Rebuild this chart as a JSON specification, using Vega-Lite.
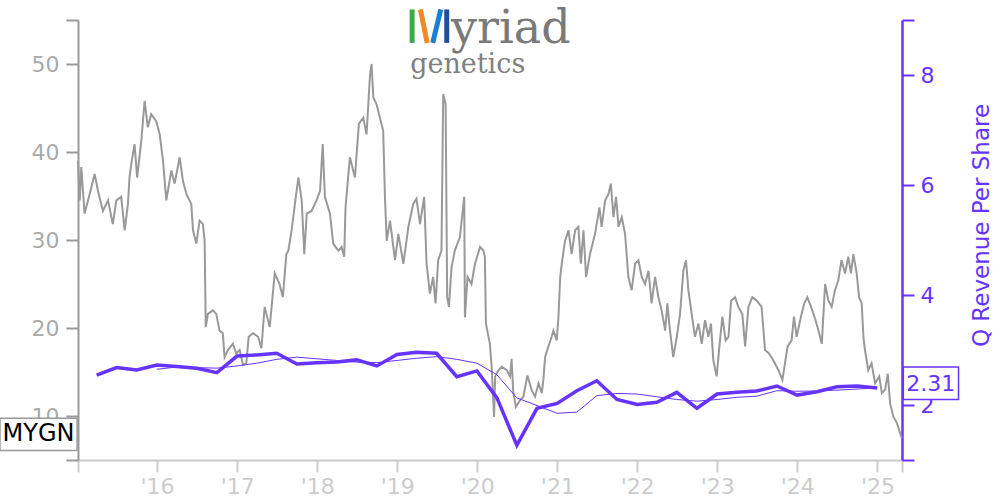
{
  "$schema": "https://vega.github.io/schema/vega-lite/v6.json",
  "width": 824,
  "height": 440,
  "autosize": {"type": "none"},
  "padding": {"left": 78, "top": 20, "right": 98, "bottom": 40},
  "background": "white",
  "config": {"view": {"stroke": null}, "font": "DejaVu Sans", "axis": {"grid": false}},
  "datasets": {
    "tag": [{"ticker": "MYGN"}],
    "price": [
      {"d":"2015-01-05","p":39.0},{"d":"2015-01-13","p":34.5},{"d":"2015-01-20","p":38.3},{"d":"2015-02-04","p":33.0},{"d":"2015-02-27","p":35.2},{"d":"2015-03-22","p":37.5},{"d":"2015-04-06","p":35.6},{"d":"2015-04-29","p":33.3},{"d":"2015-05-22","p":34.5},{"d":"2015-06-13","p":31.8},{"d":"2015-06-29","p":34.5},{"d":"2015-07-21","p":34.9},{"d":"2015-08-06","p":31.1},{"d":"2015-08-21","p":34.1},{"d":"2015-08-28","p":37.1},{"d":"2015-09-05","p":38.6},{"d":"2015-09-20","p":40.9},{"d":"2015-10-02","p":37.1},{"d":"2015-10-21","p":41.3},{"d":"2015-11-05","p":45.8},{"d":"2015-11-20","p":42.8},{"d":"2015-12-05","p":44.3},{"d":"2015-12-28","p":43.5},
      {"d":"2016-01-13","p":42.0},{"d":"2016-01-28","p":39.0},{"d":"2016-02-12","p":34.5},{"d":"2016-03-06","p":37.9},{"d":"2016-03-21","p":36.4},{"d":"2016-04-13","p":39.4},{"d":"2016-04-28","p":36.7},{"d":"2016-05-14","p":35.2},{"d":"2016-06-05","p":34.1},{"d":"2016-06-13","p":31.1},{"d":"2016-06-28","p":29.6},{"d":"2016-07-13","p":32.2},{"d":"2016-07-28","p":31.8},{"d":"2016-08-05","p":29.9},{"d":"2016-08-10","p":20.1},{"d":"2016-08-20","p":21.6},{"d":"2016-09-12","p":22.0},{"d":"2016-09-27","p":21.6},{"d":"2016-10-12","p":19.7},{"d":"2016-10-27","p":19.4},{"d":"2016-11-04","p":16.7},{"d":"2016-11-19","p":17.5},{"d":"2016-12-12","p":18.2},{"d":"2016-12-27","p":17.1},
      {"d":"2017-01-12","p":17.5},{"d":"2017-01-27","p":15.8},{"d":"2017-02-11","p":16.0},{"d":"2017-02-22","p":19.0},{"d":"2017-03-14","p":19.4},{"d":"2017-04-06","p":19.0},{"d":"2017-04-21","p":17.7},{"d":"2017-05-06","p":22.4},{"d":"2017-05-29","p":20.1},{"d":"2017-06-21","p":26.2},{"d":"2017-07-13","p":25.0},{"d":"2017-07-28","p":23.5},{"d":"2017-08-13","p":28.4},{"d":"2017-08-22","p":28.8},{"d":"2017-09-06","p":31.1},{"d":"2017-09-21","p":34.1},{"d":"2017-10-07","p":37.1},{"d":"2017-10-22","p":34.5},{"d":"2017-11-03","p":28.4},{"d":"2017-11-14","p":33.0},{"d":"2017-12-06","p":33.3},{"d":"2017-12-29","p":34.5},
      {"d":"2018-01-14","p":35.6},{"d":"2018-01-26","p":40.9},{"d":"2018-02-05","p":34.9},{"d":"2018-02-28","p":33.0},{"d":"2018-03-15","p":29.6},{"d":"2018-04-07","p":28.8},{"d":"2018-04-22","p":29.2},{"d":"2018-05-04","p":28.1},{"d":"2018-05-10","p":33.7},{"d":"2018-05-30","p":39.4},{"d":"2018-06-22","p":37.1},{"d":"2018-07-10","p":43.2},{"d":"2018-07-30","p":43.9},{"d":"2018-08-14","p":42.0},{"d":"2018-08-30","p":48.8},{"d":"2018-09-06","p":50.0},{"d":"2018-09-14","p":46.2},{"d":"2018-09-29","p":45.4},{"d":"2018-10-14","p":43.9},{"d":"2018-10-29","p":42.4},{"d":"2018-11-06","p":34.9},{"d":"2018-11-14","p":29.9},{"d":"2018-11-29","p":32.2},{"d":"2018-12-22","p":27.7},
      {"d":"2019-01-06","p":30.7},{"d":"2019-01-29","p":27.3},{"d":"2019-02-21","p":31.5},{"d":"2019-03-15","p":34.1},{"d":"2019-03-30","p":34.7},{"d":"2019-04-15","p":31.8},{"d":"2019-05-04","p":34.9},{"d":"2019-05-15","p":27.3},{"d":"2019-05-30","p":23.9},{"d":"2019-06-14","p":25.8},{"d":"2019-06-25","p":22.8},{"d":"2019-07-07","p":27.7},{"d":"2019-07-22","p":28.8},{"d":"2019-07-30","p":46.6},{"d":"2019-08-10","p":45.4},{"d":"2019-08-17","p":23.5},{"d":"2019-08-25","p":22.4},{"d":"2019-09-06","p":26.9},{"d":"2019-09-21","p":28.8},{"d":"2019-10-14","p":30.3},{"d":"2019-11-03","p":34.9},{"d":"2019-11-06","p":21.2},{"d":"2019-11-18","p":25.8},{"d":"2019-12-06","p":25.0},{"d":"2019-12-22","p":27.3},
      {"d":"2020-01-14","p":29.2},{"d":"2020-01-29","p":28.8},{"d":"2020-02-05","p":28.1},{"d":"2020-02-10","p":20.5},{"d":"2020-02-28","p":18.2},{"d":"2020-03-07","p":15.6},{"d":"2020-03-18","p":9.9},{"d":"2020-03-23","p":14.5},{"d":"2020-04-07","p":15.2},{"d":"2020-04-22","p":15.6},{"d":"2020-05-15","p":15.2},{"d":"2020-05-30","p":14.5},{"d":"2020-06-06","p":16.5},{"d":"2020-06-14","p":12.6},{"d":"2020-06-26","p":11.05},{"d":"2020-07-15","p":11.8},{"d":"2020-07-30","p":12.2},{"d":"2020-08-17","p":14.6},{"d":"2020-09-06","p":12.9},{"d":"2020-09-21","p":12.2},{"d":"2020-10-07","p":13.7},{"d":"2020-10-22","p":12.6},{"d":"2020-10-29","p":14.1},{"d":"2020-11-06","p":16.7},{"d":"2020-11-21","p":17.9},{"d":"2020-12-06","p":19.0},{"d":"2020-12-14","p":19.7},{"d":"2020-12-29","p":18.6},
      {"d":"2021-01-06","p":21.3},{"d":"2021-01-14","p":25.8},{"d":"2021-01-21","p":27.3},{"d":"2021-02-05","p":29.9},{"d":"2021-02-21","p":31.1},{"d":"2021-03-07","p":28.4},{"d":"2021-03-23","p":31.1},{"d":"2021-04-07","p":31.5},{"d":"2021-04-18","p":27.3},{"d":"2021-04-30","p":31.1},{"d":"2021-05-12","p":25.8},{"d":"2021-05-30","p":28.4},{"d":"2021-06-22","p":30.7},{"d":"2021-07-12","p":33.7},{"d":"2021-07-22","p":31.5},{"d":"2021-08-07","p":34.5},{"d":"2021-08-22","p":35.2},{"d":"2021-09-02","p":36.4},{"d":"2021-09-14","p":32.6},{"d":"2021-09-26","p":34.9},{"d":"2021-10-07","p":31.5},{"d":"2021-10-22","p":32.6},{"d":"2021-11-06","p":30.7},{"d":"2021-11-21","p":25.8},{"d":"2021-12-06","p":24.3},{"d":"2021-12-22","p":27.3},
      {"d":"2022-01-06","p":27.7},{"d":"2022-01-21","p":25.8},{"d":"2022-02-05","p":25.0},{"d":"2022-02-21","p":26.5},{"d":"2022-03-07","p":22.8},{"d":"2022-03-23","p":25.8},{"d":"2022-04-07","p":23.5},{"d":"2022-04-22","p":22.0},{"d":"2022-05-08","p":19.7},{"d":"2022-05-18","p":22.8},{"d":"2022-05-30","p":19.7},{"d":"2022-06-14","p":16.7},{"d":"2022-06-30","p":19.0},{"d":"2022-07-15","p":21.6},{"d":"2022-07-30","p":26.5},{"d":"2022-08-11","p":27.7},{"d":"2022-08-22","p":24.3},{"d":"2022-09-06","p":21.6},{"d":"2022-09-21","p":19.0},{"d":"2022-10-07","p":20.5},{"d":"2022-10-22","p":18.2},{"d":"2022-11-06","p":20.9},{"d":"2022-11-21","p":19.0},{"d":"2022-12-03","p":20.5},{"d":"2022-12-14","p":16.3},{"d":"2022-12-29","p":14.5},
      {"d":"2023-01-09","p":17.5},{"d":"2023-01-24","p":21.3},{"d":"2023-02-08","p":18.6},{"d":"2023-02-21","p":19.0},{"d":"2023-03-05","p":23.1},{"d":"2023-03-23","p":23.5},{"d":"2023-04-07","p":22.4},{"d":"2023-04-25","p":21.6},{"d":"2023-05-08","p":17.9},{"d":"2023-05-23","p":22.4},{"d":"2023-06-10","p":23.5},{"d":"2023-06-30","p":23.1},{"d":"2023-07-22","p":22.4},{"d":"2023-08-07","p":17.5},{"d":"2023-08-25","p":17.1},{"d":"2023-09-14","p":16.3},{"d":"2023-10-07","p":15.2},{"d":"2023-10-25","p":14.1},{"d":"2023-11-06","p":16.0},{"d":"2023-11-18","p":17.9},{"d":"2023-12-06","p":18.6},{"d":"2023-12-17","p":21.3},{"d":"2023-12-29","p":19.0},
      {"d":"2024-01-18","p":21.3},{"d":"2024-02-02","p":22.8},{"d":"2024-02-16","p":23.5},{"d":"2024-03-04","p":22.4},{"d":"2024-03-19","p":21.3},{"d":"2024-04-07","p":19.7},{"d":"2024-04-22","p":18.2},{"d":"2024-05-07","p":25.0},{"d":"2024-05-22","p":23.1},{"d":"2024-06-06","p":22.4},{"d":"2024-06-21","p":24.3},{"d":"2024-07-06","p":25.4},{"d":"2024-07-21","p":27.7},{"d":"2024-08-06","p":26.2},{"d":"2024-08-21","p":28.1},{"d":"2024-09-02","p":26.2},{"d":"2024-09-13","p":28.4},{"d":"2024-09-28","p":26.2},{"d":"2024-10-09","p":23.5},{"d":"2024-10-21","p":22.8},{"d":"2024-10-29","p":19.0},{"d":"2024-11-05","p":17.5},{"d":"2024-11-20","p":15.2},{"d":"2024-12-05","p":16.0},{"d":"2024-12-21","p":13.7},
      {"d":"2025-01-09","p":14.5},{"d":"2025-01-21","p":12.6},{"d":"2025-02-05","p":13.0},{"d":"2025-02-17","p":14.8},{"d":"2025-02-28","p":11.4},{"d":"2025-03-15","p":9.9},{"d":"2025-03-31","p":9.2},{"d":"2025-04-15","p":8.0},{"d":"2025-04-22","p":7.5}
    ],
    "rev": [
      {"d":"2015-03-31","q":2.545},{"d":"2015-06-30","q":2.68},{"d":"2015-09-30","q":2.636},{"d":"2015-12-31","q":2.727,"t":2.65},
      {"d":"2016-03-31","q":2.70,"t":2.69},{"d":"2016-06-30","q":2.667,"t":2.68},{"d":"2016-09-30","q":2.587,"t":2.67},{"d":"2016-12-31","q":2.89,"t":2.71},
      {"d":"2017-03-31","q":2.91,"t":2.76},{"d":"2017-06-30","q":2.94,"t":2.83},{"d":"2017-09-30","q":2.745,"t":2.87},{"d":"2017-12-31","q":2.77,"t":2.84},
      {"d":"2018-03-31","q":2.78,"t":2.81},{"d":"2018-06-30","q":2.82,"t":2.78},{"d":"2018-09-30","q":2.71,"t":2.77},{"d":"2018-12-31","q":2.92,"t":2.81},
      {"d":"2019-03-31","q":2.96,"t":2.85},{"d":"2019-06-30","q":2.94,"t":2.88},{"d":"2019-09-30","q":2.515,"t":2.83},{"d":"2019-12-31","q":2.62,"t":2.76},
      {"d":"2020-03-31","q":2.13,"t":2.55},{"d":"2020-06-30","q":1.27,"t":2.13},{"d":"2020-09-30","q":1.94,"t":1.99},{"d":"2020-12-31","q":2.03,"t":1.85},
      {"d":"2021-03-31","q":2.26,"t":1.87},{"d":"2021-06-30","q":2.44,"t":2.17},{"d":"2021-09-30","q":2.10,"t":2.21},{"d":"2021-12-31","q":2.01,"t":2.20},
      {"d":"2022-03-31","q":2.05,"t":2.15},{"d":"2022-06-30","q":2.23,"t":2.10},{"d":"2022-09-30","q":1.94,"t":2.07},{"d":"2022-12-31","q":2.20,"t":2.10},
      {"d":"2023-03-31","q":2.23,"t":2.14},{"d":"2023-06-30","q":2.255,"t":2.16},{"d":"2023-09-30","q":2.345,"t":2.26},{"d":"2023-12-31","q":2.18,"t":2.25},
      {"d":"2024-03-31","q":2.24,"t":2.255},{"d":"2024-06-30","q":2.33,"t":2.27},{"d":"2024-09-30","q":2.345,"t":2.29},{"d":"2024-12-31","q":2.31,"t":2.31}
    ]
  },
  "layer": [
    {
      "layer": [
        {
          "data": {"name": "price"},
          "mark": {"type": "line", "color": "#999999", "strokeWidth": 2},
          "encoding": {
            "x": {"field": "d", "type": "temporal",
              "scale": {"type": "utc", "domain": [{"year": 2015, "month": 1, "date": 5, "utc": true}, {"year": 2025, "month": 4, "date": 23, "utc": true}]},
              "axis": {"title": null, "values": [
                {"year": 2015, "month": 1, "date": 5, "utc": true},
                {"year": 2016, "month": 1, "date": 1, "utc": true},{"year": 2017, "month": 1, "date": 1, "utc": true},{"year": 2018, "month": 1, "date": 1, "utc": true},{"year": 2019, "month": 1, "date": 1, "utc": true},{"year": 2020, "month": 1, "date": 1, "utc": true},{"year": 2021, "month": 1, "date": 1, "utc": true},{"year": 2022, "month": 1, "date": 1, "utc": true},{"year": 2023, "month": 1, "date": 1, "utc": true},{"year": 2024, "month": 1, "date": 1, "utc": true},{"year": 2025, "month": 1, "date": 1, "utc": true},
                {"year": 2025, "month": 4, "date": 23, "utc": true}],
                "labelExpr": "utcmonth(datum.value) == 0 && utcdate(datum.value) == 1 ? \"'\" + utcFormat(datum.value, '%y') : ''",
                "labelOverlap": false, "labelFlush": false,
                "domainColor": "#cccccc", "domainWidth": 2, "tickColor": "#cccccc", "tickWidth": 2, "tickSize": 12,
                "labelColor": "#cccccc", "labelFontSize": 22, "labelPadding": 4}},
            "y": {"field": "p", "type": "quantitative", "scale": {"domain": [5, 55], "nice": false, "zero": false},
              "axis": {"orient": "left", "title": null, "values": [5, 10, 20, 30, 40, 50, 55],
                "labelExpr": "datum.value == 5 || datum.value == 55 ? '' : datum.label",
                "labelOverlap": false, "domainColor": "#999999", "domainWidth": 2, "tickColor": "#999999", "tickWidth": 2, "tickSize": 12,
                "labelColor": "#aaaaaa", "labelFontSize": 22, "labelPadding": 7}}
          }
        },
        {
          "data": {"name": "tag"},
          "mark": {"type": "rect", "fill": "white", "stroke": "#999999", "strokeWidth": 1.5},
          "encoding": {
            "x": {"datum": {"year": 2014, "month": 1, "date": 14, "utc": true}, "type": "temporal"},
            "x2": {"datum": {"year": 2015, "month": 1, "date": 1, "utc": true}},
            "y": {"datum": 9.74, "type": "quantitative", "scale": {"domain": [5, 55], "nice": false, "zero": false}},
            "y2": {"datum": 6.07}
          }
        },
        {
          "data": {"name": "tag"},
          "mark": {"type": "text", "fontSize": 24, "color": "black", "align": "center", "baseline": "middle"},
          "encoding": {
            "x": {"datum": {"year": 2014, "month": 7, "date": 9, "utc": true}, "type": "temporal"},
            "y": {"datum": 7.9, "type": "quantitative", "scale": {"domain": [5, 55], "nice": false, "zero": false}},
            "text": {"field": "ticker"}
          }
        },
        {
          "data": {"name": "tag"},
          "mark": {"type": "rule", "color": "#3aaa4a", "strokeWidth": 5},
          "encoding": {
            "x": {"datum": {"year": 2019, "month": 3, "date": 10, "utc": true}, "type": "temporal"},
            "x2": {"datum": {"year": 2019, "month": 3, "date": 10, "utc": true}},
            "y": {"datum": 56.2, "type": "quantitative", "scale": {"domain": [5, 55], "nice": false, "zero": false}},
            "y2": {"datum": 52.4}
          }
        },
        {
          "data": {"name": "tag"},
          "mark": {"type": "rule", "color": "#f08a24", "strokeWidth": 5},
          "encoding": {
            "x": {"datum": {"year": 2019, "month": 4, "date": 17, "utc": true}, "type": "temporal"},
            "x2": {"datum": {"year": 2019, "month": 5, "date": 18, "utc": true}},
            "y": {"datum": 56.2, "type": "quantitative", "scale": {"domain": [5, 55], "nice": false, "zero": false}},
            "y2": {"datum": 52.4}
          }
        },
        {
          "data": {"name": "tag"},
          "mark": {"type": "rule", "color": "#1b7fd1", "strokeWidth": 5},
          "encoding": {
            "x": {"datum": {"year": 2019, "month": 7, "date": 19, "utc": true}, "type": "temporal"},
            "x2": {"datum": {"year": 2019, "month": 6, "date": 12, "utc": true}},
            "y": {"datum": 56.2, "type": "quantitative", "scale": {"domain": [5, 55], "nice": false, "zero": false}},
            "y2": {"datum": 52.4}
          }
        },
        {
          "data": {"name": "tag"},
          "mark": {"type": "rule", "color": "#1f4e9a", "strokeWidth": 5},
          "encoding": {
            "x": {"datum": {"year": 2019, "month": 8, "date": 15, "utc": true}, "type": "temporal"},
            "x2": {"datum": {"year": 2019, "month": 8, "date": 15, "utc": true}},
            "y": {"datum": 56.2, "type": "quantitative", "scale": {"domain": [5, 55], "nice": false, "zero": false}},
            "y2": {"datum": 52.4}
          }
        },
        {
          "data": {"name": "tag"},
          "mark": {"type": "text", "text": "yriad", "font": "DejaVu Serif", "fontSize": 46, "color": "#7a7a7a", "align": "left", "baseline": "alphabetic"},
          "encoding": {
            "x": {"datum": {"year": 2019, "month": 9, "date": 4, "utc": true}, "type": "temporal"},
            "y": {"datum": 52.38, "type": "quantitative", "scale": {"domain": [5, 55], "nice": false, "zero": false}}
          }
        },
        {
          "data": {"name": "tag"},
          "mark": {"type": "text", "text": "genetics", "font": "DejaVu Serif", "fontSize": 27, "color": "#808080", "align": "left", "baseline": "alphabetic"},
          "encoding": {
            "x": {"datum": {"year": 2019, "month": 3, "date": 1, "utc": true}, "type": "temporal"},
            "y": {"datum": 49.0, "type": "quantitative", "scale": {"domain": [5, 55], "nice": false, "zero": false}}
          }
        }
      ]
    },
    {
      "layer": [
        {
          "data": {"name": "rev"},
          "transform": [{"filter": "isValid(datum.t)"}],
          "mark": {"type": "line", "color": "#6633ff", "strokeWidth": 1},
          "encoding": {
            "x": {"field": "d", "type": "temporal"},
            "y": {"field": "t", "type": "quantitative", "scale": {"domain": [1, 9], "nice": false, "zero": false},
              "axis": {"orient": "right", "title": "Q Revenue Per Share", "values": [1, 2, 4, 6, 8, 9],
                "labelExpr": "datum.value == 1 || datum.value == 9 ? '' : datum.label",
                "labelOverlap": false, "domainColor": "#6633ff", "domainWidth": 2.5, "tickColor": "#6633ff", "tickWidth": 2, "tickSize": 12,
                "labelColor": "#6633ff", "labelFontSize": 22, "labelPadding": 6,
                "titleColor": "#6633ff", "titleFontSize": 23, "titleFontWeight": "normal", "titleAngle": 270, "titlePadding": 60, "titleY": 205}}
          }
        },
        {
          "data": {"name": "rev"},
          "mark": {"type": "line", "color": "#6633ff", "strokeWidth": 3.5},
          "encoding": {
            "x": {"field": "d", "type": "temporal"},
            "y": {"field": "q", "type": "quantitative", "scale": {"domain": [1, 9], "nice": false, "zero": false}}
          }
        },
        {
          "data": {"name": "rev"},
          "transform": [{"filter": "utcyear(datum.d) == 2024 && utcmonth(datum.d) == 11"}],
          "mark": {"type": "rect", "fill": "white", "stroke": "#6633ff", "strokeWidth": 1.5},
          "encoding": {
            "x": {"datum": {"year": 2025, "month": 4, "date": 29, "utc": true}, "type": "temporal"},
            "x2": {"datum": {"year": 2026, "month": 1, "date": 6, "utc": true}},
            "y": {"datum": 2.69, "type": "quantitative", "scale": {"domain": [1, 9], "nice": false, "zero": false}},
            "y2": {"datum": 2.1}
          }
        },
        {
          "data": {"name": "rev"},
          "transform": [{"filter": "utcyear(datum.d) == 2024 && utcmonth(datum.d) == 11"}],
          "mark": {"type": "text", "fontSize": 22, "color": "#6633ff", "align": "center", "baseline": "middle"},
          "encoding": {
            "x": {"datum": {"year": 2025, "month": 9, "date": 1, "utc": true}, "type": "temporal"},
            "y": {"datum": 2.38, "type": "quantitative", "scale": {"domain": [1, 9], "nice": false, "zero": false}},
            "text": {"field": "q", "type": "quantitative", "format": ".2f"}
          }
        }
      ]
    }
  ],
  "resolve": {"scale": {"y": "independent"}}
}
